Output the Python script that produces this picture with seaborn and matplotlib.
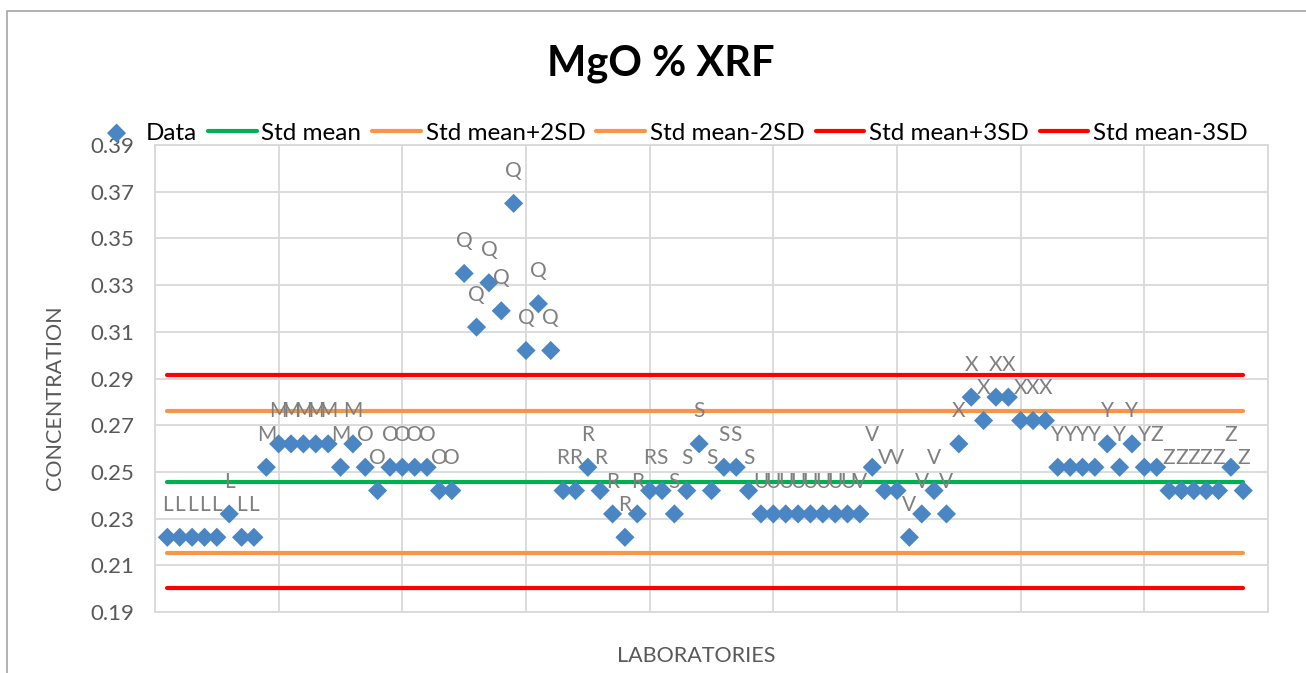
import numpy as np
import pandas as pd
import seaborn as sns
import matplotlib.pyplot as plt
from matplotlib.patches import Rectangle

sns.set_theme(style="white")
plt.rcParams['font.family'] = ['Lato', 'DejaVu Sans']

# lab codes (one per result) and MgO results
lab_codes = (["L"] * 8 + ["M"] * 8 + ["O"] * 8 + ["Q"] * 8 + ["R"] * 8 + ["S"] * 8
             + ["U"] * 8 + ["V"] * 8 + ["X"] * 8 + ["Y"] * 8 + ["Z"] * 8)
mgo = [0.222, 0.222, 0.222, 0.222, 0.222, 0.232, 0.222, 0.222,
       0.252, 0.262, 0.262, 0.262, 0.262, 0.262, 0.252, 0.262,
       0.252, 0.242, 0.252, 0.252, 0.252, 0.252, 0.242, 0.242,
       0.335, 0.312, 0.331, 0.319, 0.365, 0.302, 0.322, 0.302,
       0.242, 0.242, 0.252, 0.242, 0.232, 0.222, 0.232, 0.242,
       0.242, 0.232, 0.242, 0.262, 0.242, 0.252, 0.252, 0.242,
       0.232, 0.232, 0.232, 0.232, 0.232, 0.232, 0.232, 0.232,
       0.232, 0.252, 0.242, 0.242, 0.222, 0.232, 0.242, 0.232,
       0.262, 0.282, 0.272, 0.282, 0.282, 0.272, 0.272, 0.272,
       0.252, 0.252, 0.252, 0.252, 0.262, 0.252, 0.262, 0.252,
       0.252, 0.242, 0.242, 0.242, 0.242, 0.242, 0.252, 0.242]

limit_names = ["Std mean", "Std mean+2SD", "Std mean-2SD", "Std mean+3SD", "Std mean-3SD"]
limit_values = [0.2458, 0.2762, 0.2154, 0.2914, 0.2002]
limit_colors = ["#00b050", "#f79646", "#f79646", "#ff0000", "#ff0000"]

W, H = 1306, 673
fig = plt.figure(figsize=(W / 100, H / 100), dpi=100)
ax = fig.add_axes([155 / W, 1 - 612 / H, (1268 - 155) / W, (612 - 145) / H])

idx = np.arange(1, len(mgo) + 1)
df = pd.DataFrame({"lab": idx, "MgO": mgo, "code": lab_codes})

for name, val, col in zip(limit_names, limit_values, limit_colors):
    ldf = pd.DataFrame({"lab": idx, "val": np.full(len(idx), val)})
    sns.lineplot(data=ldf, x="lab", y="val", color=col, lw=3, label=name, ax=ax, zorder=2)

sns.scatterplot(data=df, x="lab", y="MgO", marker="D", s=95, color="#4a86c4",
                edgecolor="none", label="Data", ax=ax, zorder=3)

for x, y, c in zip(df["lab"], df["MgO"], df["code"]):
    ax.annotate(c, (x, y), xytext=(0, 19), textcoords="offset points",
                ha="center", va="baseline", fontsize=15, color="#7f7f7f", zorder=4)

ax.set_xlim(0, 90)
ax.set_ylim(0.19, 0.39)
ax.set_xticks(np.arange(0, 91, 10))
ax.set_yticks(np.arange(0.19, 0.3901, 0.02))
ax.set_xticklabels([])
ax.set_yticklabels([f"{v:.2f}" for v in np.arange(0.19, 0.3901, 0.02)])
ax.grid(True, color="#d9d9d9", lw=1.3)
ax.tick_params(axis="x", length=0)
ax.tick_params(axis="y", length=5.8, color="#d9d9d9", width=1.3, pad=9,
               labelsize=16, labelcolor="#595959")
for sp in ax.spines.values():
    sp.set_color("#d9d9d9")
    sp.set_linewidth(1.3)
ax.set_xlabel("")
ax.set_ylabel("")

fig.text(55 / W, 1 - 398 / H, "CONCENTRATION", rotation=90, ha="center", va="center",
         fontsize=15.5, color="#595959")
fig.text(696 / W, 1 - 656 / H, "LABORATORIES", ha="center", va="center",
         fontsize=15.5, color="#595959")
fig.text(661 / W, 1 - 64 / H, "MgO % XRF", ha="center", va="center",
         fontsize=30, fontweight="bold", color="black")

handles, labels = ax.get_legend_handles_labels()
order = [labels.index(n) for n in ["Data"] + limit_names]
ax.legend([handles[i] for i in order], [labels[i] for i in order],
          loc="center", bbox_to_anchor=(670 / W, 1 - 133 / H),
          bbox_transform=fig.transFigure, ncol=6, frameon=False, fontsize=17.5,
          handlelength=2.0, handletextpad=0.2, columnspacing=0.45,
          labelcolor="black")

fig.add_artist(Rectangle((7 / W, -0.1), 1.2, 1.1 - 11 / H, transform=fig.transFigure,
                         fill=False, ec="#a6a6a6", lw=1.2))

fig.savefig("out.png", dpi=100)
